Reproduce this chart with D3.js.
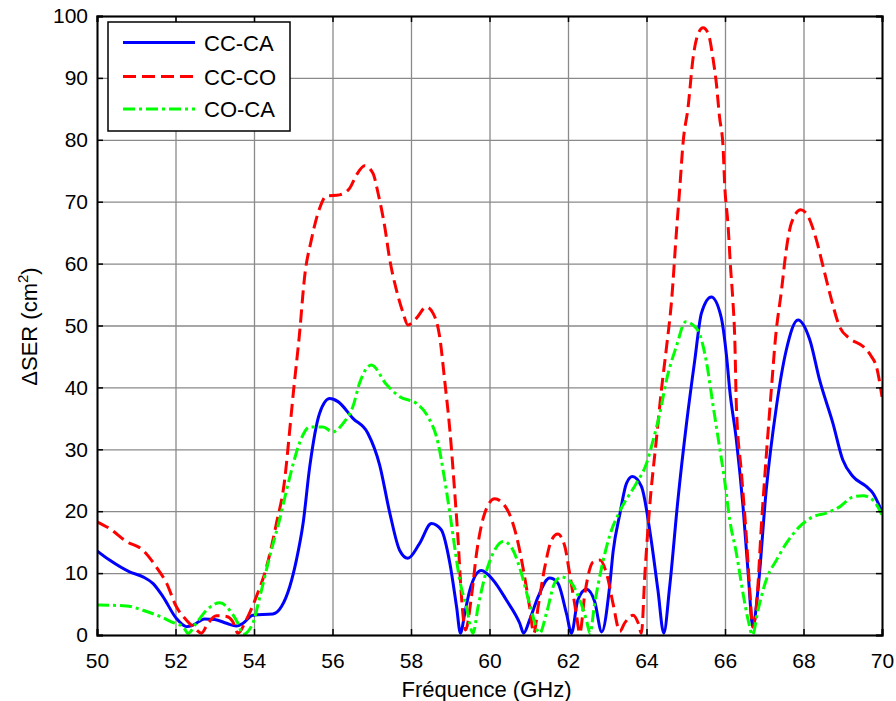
<!DOCTYPE html>
<html>
<head>
<meta charset="utf-8">
<script src="https://cdn.jsdelivr.net/npm/d3@7"></script>
<style>
  html, body { margin: 0; padding: 0; background: #fff; }
  svg { display: block; font-family: "Liberation Sans", Arial, sans-serif; }
</style>
</head>
<body>
<svg id="chart" width="896" height="701"></svg>
<script>
// ---------------- data ----------------
const xTicks = [50, 52, 54, 56, 58, 60, 62, 64, 66, 68, 70];
const yTicks = [0, 10, 20, 30, 40, 50, 60, 70, 80, 90, 100];
const seriesNames = ["CC-CA", "CC-CO", "CO-CA"];

const ccCaFreq = [50.0,50.32,50.83,51.17,51.43,51.68,52.02,52.28,52.45,52.74,53.0,53.3,53.55,53.72,53.97,54.48,54.7,54.91,55.08,55.25,55.42,55.67,55.93,56.14,56.52,56.9,57.2,57.46,57.71,57.92,58.22,58.52,58.77,58.99,59.16,59.26,59.37,59.5,59.79,60.09,60.43,60.77,60.87,61.02,61.24,61.53,61.74,61.96,62.09,62.25,62.47,62.68,62.86,63.06,63.15,63.32,63.49,63.64,63.87,64.12,64.29,64.44,64.59,64.8,65.02,65.23,65.4,65.65,65.9,66.04,66.12,66.29,66.46,66.59,66.71,66.84,67.05,67.31,67.56,67.86,68.16,68.41,68.75,69.0,69.26,69.6,69.77,70.0];
const ccCaVal  = [13.6,12.1,10.2,9.4,8.3,6.2,2.7,1.35,1.6,2.6,2.5,1.9,1.45,1.9,3.2,3.4,4.6,7.8,12.1,18.0,27.2,35.8,38.2,37.7,35.0,32.6,27.5,19.7,13.7,12.4,14.8,18.0,17.0,11.6,4.6,0.3,3.5,7.3,10.4,8.9,5.65,1.9,0.3,2.4,6.2,9.2,8.4,3.5,0.3,5.65,7.4,5.4,0.5,7.8,13.5,19.5,24.5,25.6,24.0,15.3,7.3,0.3,7.8,21.8,34.2,44.4,52.0,54.6,51.4,45.0,39.6,31.5,20.7,10.0,1.3,7.3,23.4,36.9,46.0,50.9,47.7,41.2,34.2,28.3,25.6,24.0,22.9,19.9];

const ccCoFreq = [50.0,50.32,50.75,51.17,51.51,51.77,52.02,52.28,52.49,52.66,52.83,53.04,53.3,53.46,53.59,53.8,54.06,54.32,54.57,54.78,54.91,55.0,55.16,55.29,55.46,55.67,55.84,56.18,56.44,56.61,56.82,57.03,57.16,57.33,57.46,57.63,57.8,57.92,58.14,58.39,58.56,58.73,58.86,58.99,59.11,59.2,59.28,59.39,59.54,59.67,59.88,60.13,60.43,60.69,60.85,61.02,61.13,61.24,61.41,61.58,61.74,61.92,62.04,62.21,62.3,62.43,62.64,62.81,63.0,63.15,63.32,63.44,63.66,63.79,63.87,63.96,64.08,64.25,64.38,64.51,64.64,64.76,64.85,64.93,65.06,65.19,65.32,65.44,65.57,65.7,65.78,65.86,65.95,65.99,66.08,66.14,66.2,66.25,66.29,66.42,66.55,66.63,66.71,66.8,66.93,67.05,67.18,67.29,67.44,67.56,67.69,67.93,68.12,68.33,68.5,68.67,68.92,69.18,69.52,69.73,69.86,70.0];
const ccCoVal  = [18.3,17.2,15.1,13.7,11.0,8.4,4.6,2.4,1.1,0.3,1.9,3.1,3.0,2.15,0.3,2.4,6.2,11.0,18.0,25.0,33.1,39.0,48.7,57.9,63.8,68.9,70.9,71.1,72.2,74.3,75.8,74.6,71.4,66.0,60.6,55.7,52.0,50.1,51.2,53.0,52.0,48.2,41.0,33.1,23.4,15.3,6.7,0.8,6.2,13.2,19.7,22.0,20.5,15.9,11.0,4.6,0.3,4.6,11.0,15.3,16.3,14.3,10.0,3.5,0.3,6.7,11.8,12.1,9.5,5.0,0.6,1.9,3.2,1.9,0.3,10.0,20.7,31.5,39.6,46.5,54.1,64.9,72.4,79.4,85.3,93.4,97.2,98.1,97.2,92.9,89.1,83.7,78.9,73.0,66.0,59.5,54.1,47.7,36.9,26.1,15.3,7.3,1.3,4.6,18.0,28.8,39.6,48.2,55.7,62.2,66.5,68.7,67.6,63.8,59.5,55.2,49.8,47.9,46.6,45.0,43.3,38.5];

const coCaFreq = [50.0,50.75,51.17,51.6,51.98,52.19,52.32,52.53,52.79,53.13,53.38,53.59,53.72,53.97,54.15,54.4,54.65,54.83,55.0,55.16,55.42,55.76,56.01,56.27,56.52,56.69,56.99,57.37,57.71,58.14,58.43,58.69,58.86,58.99,59.11,59.24,59.41,59.58,59.71,59.88,60.09,60.36,60.6,60.81,61.02,61.28,61.45,61.66,61.83,62.09,62.3,62.47,62.56,62.68,62.86,63.06,63.32,63.74,64.0,64.17,64.34,64.51,64.76,65.0,65.2,65.36,65.53,65.7,65.86,65.99,66.12,66.29,66.46,66.59,66.7,66.84,67.05,67.31,67.56,67.9,68.24,68.58,68.92,69.26,69.52,69.77,70.0];
const coCaVal  = [4.85,4.7,4.0,3.0,1.9,1.35,0.3,1.9,4.0,5.2,4.0,1.9,0.1,1.9,6.2,12.7,18.6,23.4,27.7,31.0,33.6,33.6,32.8,34.2,36.9,40.7,43.6,40.5,38.5,37.4,35.3,31.0,25.0,19.7,14.3,8.9,4.6,0.3,4.6,9.4,13.2,15.1,13.7,10.0,5.1,0.3,3.5,8.4,9.4,8.4,5.65,2.4,0.3,5.1,11.0,16.0,20.0,24.5,27.7,31.5,35.8,41.2,46.6,50.6,50.0,48.5,44.0,36.9,30.4,25.0,18.6,13.2,6.7,2.4,0.0,4.0,8.9,12.1,14.8,17.5,19.1,19.7,20.7,22.3,22.5,21.8,19.4];

// ---------------- layout ----------------
const W = 896, H = 701;
const margin = { top: 16, right: 14, bottom: 66, left: 97 };
const pw = W - margin.left - margin.right;
const ph = H - margin.top - margin.bottom;

const svg = d3.select("#chart");
const g = svg.append("g").attr("transform", `translate(${margin.left},${margin.top})`);

const x = d3.scaleLinear().domain([50, 70]).range([0, pw]);
const y = d3.scaleLinear().domain([0, 100]).range([ph, 0]);

// grid
g.append("g").attr("class", "grid")
  .attr("transform", `translate(0,${ph})`)
  .call(d3.axisBottom(x).tickValues(xTicks).tickSize(-ph).tickFormat(""))
  .call(s => s.select(".domain").remove())
  .call(s => s.selectAll("line").attr("stroke", "#8a8a8a").attr("stroke-width", 1.3));
g.append("g").attr("class", "grid")
  .call(d3.axisLeft(y).tickValues(yTicks).tickSize(-pw).tickFormat(""))
  .call(s => s.select(".domain").remove())
  .call(s => s.selectAll("line").attr("stroke", "#8a8a8a").attr("stroke-width", 1.3));

// clip
svg.append("defs").append("clipPath").attr("id", "clip")
  .append("rect").attr("x", 0).attr("y", -2).attr("width", pw).attr("height", ph + 2);

const series = [
  { name: seriesNames[0], fx: ccCaFreq, fy: ccCaVal, color: "#0000ff", dash: null },
  { name: seriesNames[1], fx: ccCoFreq, fy: ccCoVal, color: "#ff0000", dash: "13,6" },
  { name: seriesNames[2], fx: coCaFreq, fy: coCaVal, color: "#00ff00", dash: "12,4,3,4" }
];

const line = d3.line()
  .x(d => x(d[0]))
  .y(d => y(d[1]))
  .curve(d3.curveMonotoneX);

const lines = g.append("g").attr("clip-path", "url(#clip)");
// draw order: blue, red, green (green on top as in reference)
series.forEach(s => {
  const pts = s.fx.map((f, i) => [f, s.fy[i]]);
  lines.append("path")
    .datum(pts)
    .attr("fill", "none")
    .attr("stroke", s.color)
    .attr("stroke-width", 3)
    .attr("stroke-linejoin", "round")
    .attr("stroke-dasharray", s.dash)
    .attr("d", line);
});

// axes (inward ticks, MATLAB box)
const fontSize = 21;
const axB = g.append("g").attr("transform", `translate(0,${ph})`)
  .call(d3.axisBottom(x).tickValues(xTicks).tickSize(-6).tickPadding(18).tickFormat(d3.format("d")));
const axL = g.append("g")
  .call(d3.axisLeft(y).tickValues(yTicks).tickSize(-6).tickPadding(9).tickFormat(d3.format("d")));
const axT = g.append("g")
  .call(d3.axisTop(x).tickValues(xTicks).tickSize(-6).tickFormat(""));
const axR = g.append("g").attr("transform", `translate(${pw},0)`)
  .call(d3.axisRight(y).tickValues(yTicks).tickSize(-6).tickFormat(""));

[axB, axL, axT, axR].forEach(a => {
  a.select(".domain").attr("stroke", "#000").attr("stroke-width", 2);
  a.selectAll(".tick line").attr("stroke", "#000").attr("stroke-width", 1.5);
  a.selectAll(".tick text").attr("font-size", fontSize).attr("fill", "#000")
    .attr("font-family", '"Liberation Sans", Arial, sans-serif');
});

// axis labels
svg.append("text")
  .attr("x", margin.left + pw / 2 - 3)
  .attr("y", 697)
  .attr("text-anchor", "middle")
  .attr("font-size", 22)
  .attr("fill", "#000")
  .text("Fréquence (GHz)");

const yl = svg.append("text")
  .attr("transform", `translate(37,${margin.top + ph / 2 + 1}) rotate(-90)`)
  .attr("text-anchor", "middle")
  .attr("font-size", 22)
  .attr("fill", "#000");
yl.append("tspan").text("\u0394SER (cm");
yl.append("tspan").attr("font-size", 15).attr("dy", -9).text("2");
yl.append("tspan").attr("dy", 9).text(")");

// legend
const leg = svg.append("g").attr("transform", "translate(108,22)");
leg.append("rect")
  .attr("x", 0).attr("y", 0).attr("width", 182).attr("height", 109)
  .attr("fill", "#fff").attr("stroke", "#000").attr("stroke-width", 1.5);
const rowY = [20.5, 54.5, 87];
series.forEach((s, i) => {
  leg.append("line")
    .attr("x1", 15).attr("x2", 87)
    .attr("y1", rowY[i]).attr("y2", rowY[i])
    .attr("stroke", s.color).attr("stroke-width", 3)
    .attr("stroke-dasharray", s.dash);
  leg.append("text")
    .attr("x", 96).attr("y", rowY[i] + 8)
    .attr("font-size", 22).attr("fill", "#000")
    .text(s.name);
});
</script>
</body>
</html>
